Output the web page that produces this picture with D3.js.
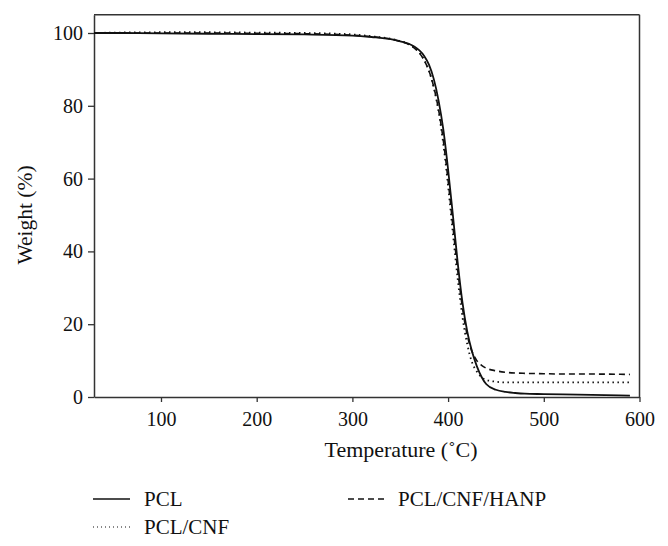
<!DOCTYPE html>
<html><head><meta charset="utf-8">
<script src="https://cdn.jsdelivr.net/npm/d3@7/dist/d3.min.js"></script>
<style>body{margin:0;background:#fff}svg{display:block}text{font-family:"Liberation Serif","DejaVu Serif",serif;fill:#111}</style>
</head><body><svg id="c" width="668" height="546"></svg>
<script>
const temps = [30, 50, 100, 150, 200, 250, 300, 320, 340, 350, 360, 365, 370, 375, 380, 385, 390, 395, 400, 405, 410, 415, 420, 425, 430, 435, 440, 450, 460, 470, 480, 500, 520, 550, 590];
const pcl = [100, 100, 99.9, 99.8, 99.7, 99.6, 99.3, 98.9, 98.3, 97.7, 96.9, 96.2, 95.2, 93.7, 91.3, 87.4, 81.5, 73.5, 62.5, 50, 37, 26, 18, 12.5, 8.5, 5.5, 3.5, 2, 1.4, 1.1, 0.9, 0.8, 0.7, 0.6, 0.4];
const pclCnf = [100, 100.1, 100.2, 100.2, 100.1, 100, 99.6, 99.1, 98.4, 97.8, 96.8, 95.9, 94.6, 92.6, 89.6, 85, 78.5, 69.5, 58, 45, 32.5, 22, 14.5, 9.5, 7, 5.4, 4.7, 4.2, 4.0, 4.0, 4.0, 4.0, 4.0, 4.0, 4.0];
const pclCnfHanp = [100, 100, 100, 100, 99.9, 99.8, 99.4, 99, 98.3, 97.7, 96.7, 95.8, 94.5, 92.5, 89.6, 85.2, 79, 70.5, 59.5, 47, 35, 24.5, 17, 12.5, 10, 8.7, 7.9, 7.2, 6.8, 6.6, 6.5, 6.4, 6.3, 6.3, 6.2];
const seriesNames = ["PCL", "PCL/CNF", "PCL/CNF/HANP"];
const xTicks = [100, 200, 300, 400, 500, 600];
const yTicks = [0, 20, 40, 60, 80, 100];

const svg = d3.select("#c");
const x = d3.scaleLinear().domain([30, 600]).range([94, 639.5]);
const y = d3.scaleLinear().domain([0, 105]).range([397, 14.8]);
const axisColor = "#333";

svg.append("line").attr("x1", x(30)).attr("x2", x(600)).attr("y1", y(105)).attr("y2", y(105)).attr("stroke", axisColor).attr("stroke-width", 1.5);
svg.append("line").attr("x1", x(600)).attr("x2", x(600)).attr("y1", y(105)).attr("y2", y(0)).attr("stroke", axisColor).attr("stroke-width", 1.5);

const xa = svg.append("g").attr("transform", `translate(0,${y(0)})`)
  .call(d3.axisBottom(x).tickValues(xTicks).tickSize(5).tickSizeOuter(0).tickPadding(10));
const ya = svg.append("g").attr("transform", `translate(${x(30)},0)`)
  .call(d3.axisLeft(y).tickValues(yTicks).tickSize(6).tickSizeOuter(0).tickPadding(5));
[xa, ya].forEach(a => {
  a.select(".domain").attr("stroke", axisColor).attr("stroke-width", 1.5);
  a.selectAll(".tick line").attr("stroke", axisColor).attr("stroke-width", 1.3);
  a.selectAll(".tick text").attr("font-size", 20).attr("font-family", "Liberation Serif").attr("fill", "#111");
});

svg.append("text").attr("x", 401).attr("y", 457).attr("text-anchor", "middle").attr("font-size", 22).text("Temperature (˚C)");
svg.append("text").attr("transform", "translate(32,215) rotate(-90)").attr("text-anchor", "middle").attr("font-size", 21.5).text("Weight (%)");

const line = d3.line().x((d, i) => x(temps[i])).y(d => y(d)).curve(d3.curveMonotoneX);
const styles = [
  { data: pcl, dash: null, w: 1.8 },
  { data: pclCnf, dash: "1.5,3.5", w: 1.8 },
  { data: pclCnfHanp, dash: "6,4", w: 1.6 }
];
svg.append("clipPath").attr("id", "pc").append("rect")
  .attr("x", x(30)).attr("y", y(105)).attr("width", x(600) - x(30)).attr("height", y(0) - y(105));
[2, 1, 0].forEach(i => {
  const s = styles[i];
  svg.append("path").attr("d", line(s.data)).attr("fill", "none").attr("stroke", "#111")
    .attr("stroke-width", s.w).attr("stroke-dasharray", s.dash).attr("clip-path", "url(#pc)");
});

const leg = [
  { i: 0, lx: 93, ly: 499 },
  { i: 1, lx: 93, ly: 527 },
  { i: 2, lx: 348, ly: 499 }
];
leg.forEach(l => {
  const s = styles[l.i];
  svg.append("line").attr("x1", l.lx).attr("x2", l.lx + 37).attr("y1", l.ly).attr("y2", l.ly)
    .attr("stroke", "#111").attr("stroke-width", l.i === 1 ? 1.2 : 1.5).attr("stroke-dasharray", l.i === 1 ? "1,3" : s.dash);
  svg.append("text").attr("x", l.lx + (l.i === 2 ? 50 : 51)).attr("y", l.ly + 7).attr("font-size", 21).text(seriesNames[l.i]);
});
</script></body></html>
